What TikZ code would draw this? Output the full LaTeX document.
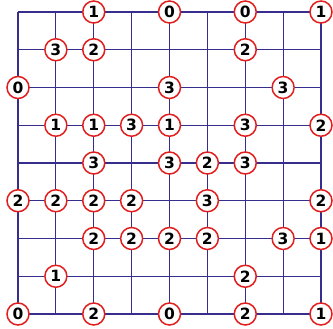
\documentclass[tikz,border=0pt]{standalone}
\usepackage{fontspec}
\newfontfamily\digitfont{DejaVu Sans}[BoldFont={DejaVu Sans Bold}]
\definecolor{gridblue}{RGB}{55,45,140}
\definecolor{ringred}{RGB}{225,30,30}
\tikzset{
  gridline/.style={draw=gridblue, line width=1.1pt},
  clue/.style={circle, draw=ringred, line width=1.5pt, fill=white,
    minimum size=22pt, inner sep=0pt, font=\digitfont\bfseries\fontsize{15.5}{16}\selectfont}
}
\begin{document}
\begin{tikzpicture}[x=1pt,y=-1pt]
\useasboundingbox (0,0) rectangle (333,329);
\def\cx#1{18+37.875*#1}
\def\cy#1{12+37.75*#1}
\foreach \i in {0,...,8}{
  \draw[gridline] ({\cx{\i}},{\cy{0}}) -- ({\cx{\i}},{\cy{8}});
  \draw[gridline] ({\cx{0}},{\cy{\i}}) -- ({\cx{8}},{\cy{\i}});
}
\foreach \c/\r/\v in {
  2/0/1, 4/0/0, 6/0/0, 8/0/1,
  1/1/3, 2/1/2, 6/1/2,
  0/2/0, 4/2/3, 7/2/3,
  1/3/1, 2/3/1, 3/3/3, 4/3/1, 6/3/3, 8/3/2,
  2/4/3, 4/4/3, 5/4/2, 6/4/3,
  0/5/2, 1/5/2, 2/5/2, 3/5/2, 5/5/3, 8/5/2,
  2/6/2, 3/6/2, 4/6/2, 5/6/2, 7/6/3, 8/6/1,
  1/7/1, 6/7/2,
  0/8/0, 2/8/2, 4/8/0, 6/8/2, 8/8/1}{
  \node[clue] (n-\c-\r) at ({\cx{\c}},{\cy{\r}}) {\v};
}
\end{tikzpicture}
\end{document}
